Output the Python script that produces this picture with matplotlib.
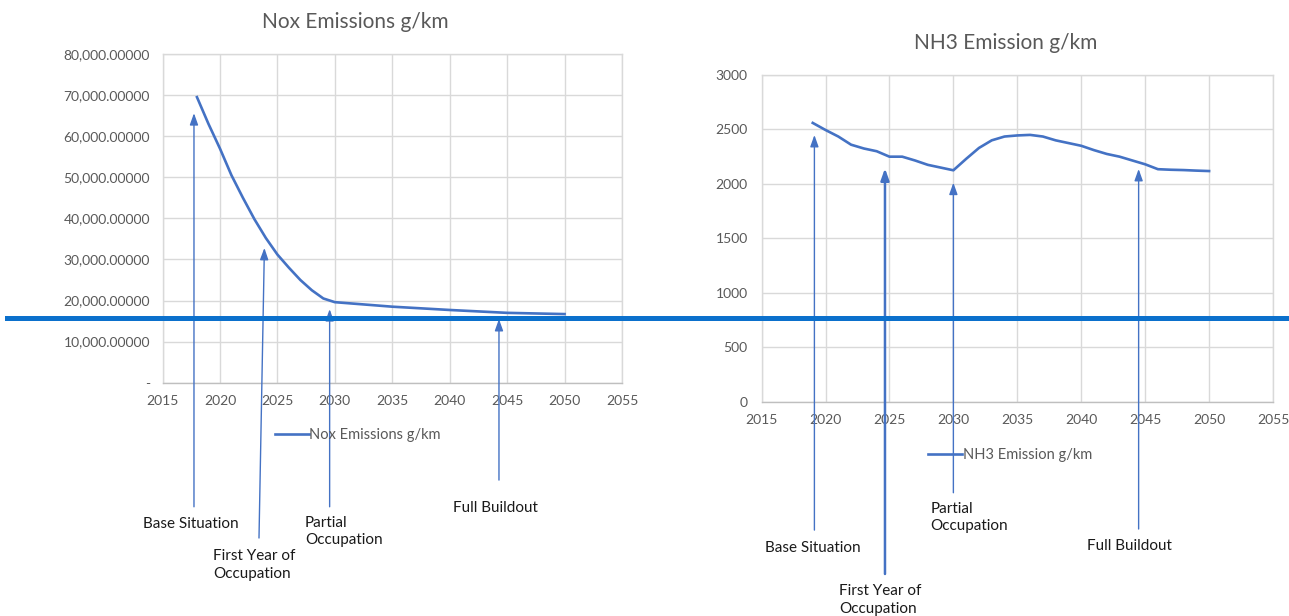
import matplotlib.pyplot as plt
from matplotlib.lines import Line2D

# NOx emissions (g/km) per year
nox_years = [2018, 2019, 2020, 2021, 2022, 2023, 2024, 2025, 2026, 2027,
             2028, 2029, 2030, 2035, 2040, 2045, 2050]
nox_values = [69500, 63000, 57000, 50500, 45000, 39800, 35200, 31200, 28000, 25000,
              22500, 20500, 19600, 18500, 17700, 17000, 16700]

# NH3 emissions (g/km) per year
nh3_years = list(range(2019, 2051))
nh3_values = [2560, 2495, 2435, 2360, 2325, 2300, 2250, 2250, 2215, 2175,
              2150, 2125, 2230, 2330, 2400, 2435, 2445, 2450, 2435, 2400,
              2375, 2350, 2310, 2275, 2250, 2215, 2180, 2135, 2130, 2127,
              2122, 2118]

x_ticks = [2015, 2020, 2025, 2030, 2035, 2040, 2045, 2050, 2055]
nox_ticks = [0, 10000, 20000, 30000, 40000, 50000, 60000, 70000, 80000]
nox_tick_labels = ['-', '10,000.00000', '20,000.00000', '30,000.00000', '40,000.00000',
                   '50,000.00000', '60,000.00000', '70,000.00000', '80,000.00000']
nh3_ticks = [0, 500, 1000, 1500, 2000, 2500, 3000]

LINE = '#4472C4'
GRID = '#d9d9d9'
TXT = '#595959'

plt.rcParams['font.family'] = ['Lato', 'DejaVu Sans']

W, H = 1289, 616
fig = plt.figure(figsize=(W / 100, H / 100), dpi=100)


def px_axes(x0, y0, x1, y1):
    return fig.add_axes([x0 / W, 1 - y1 / H, (x1 - x0) / W, (y1 - y0) / H])


def style(ax, yticks, ylabels, ylim):
    ax.set_xlim(2015, 2055)
    ax.set_ylim(*ylim)
    ax.set_xticks(x_ticks)
    ax.set_xticklabels([str(t) for t in x_ticks])
    ax.set_yticks(yticks)
    ax.set_yticklabels(ylabels)
    ax.grid(True, color=GRID, lw=1)
    ax.set_axisbelow(True)
    for s in ax.spines.values():
        s.set_color(GRID)
        s.set_linewidth(1)
    ax.spines['bottom'].set_color('#bfbfbf')
    ax.tick_params(length=0, labelsize=10, labelcolor=TXT, pad=9)


def milestones(ax, arrows, labels):
    for (xt, yt), (xb, yb), lw in arrows:
        ax.annotate('', xy=(xt, yt), xytext=(xb, yb), annotation_clip=False,
                    arrowprops=dict(arrowstyle='-|>,head_length=0.7,head_width=0.25',
                                    color=LINE, lw=lw, shrinkA=0, shrinkB=0))
    for x, y, s in labels:
        ax.text(x, y, s, ha='left', va='center', fontsize=11, color='#1a1a1a',
                linespacing=1.3, clip_on=False)


def legend(ax, cx, cy):
    ax.legend(loc='center', bbox_to_anchor=(cx / W, 1 - cy / H), bbox_transform=fig.transFigure,
              frameon=False, fontsize=10.5, labelcolor=TXT, handlelength=2.3,
              handletextpad=0.05)


# Left chart: NOx
ax1 = px_axes(162.5, 54, 622, 382.7)
style(ax1, nox_ticks, nox_tick_labels, (0, 80000))
ax1.plot(nox_years, nox_values, color=LINE, lw=1.9, label='Nox Emissions g/km')
ax1.set_title('Nox Emissions g/km', fontsize=15, color=TXT, pad=19, x=0.419)
legend(ax1, 358, 435)
milestones(ax1,
           [((2017.74, 65600), (2017.74, -30200), 1.0),
            ((2023.87, 32800), (2023.40, -37800), 1.0),
            ((2029.55, 17900), (2029.55, -30200), 1.0),
            ((2044.29, 15500), (2044.29, -23700), 1.0)],
           [(2013.3, -34400, 'Base Situation'),
            (2019.4, -44400, 'First Year of\nOccupation'),
            (2027.4, -36200, 'Partial\nOccupation'),
            (2040.3, -30500, 'Full Buildout')])

# Right chart: NH3
ax2 = px_axes(761.6, 75, 1273, 401.7)
style(ax2, nh3_ticks, [str(t) for t in nh3_ticks], (0, 3000))
ax2.tick_params(axis='y', pad=10)
ax2.plot(nh3_years, nh3_values, color=LINE, lw=1.9, label='NH3 Emission g/km')
ax2.set_title('NH3 Emission g/km', fontsize=15, color=TXT, pad=19, x=0.478)
legend(ax2, 1010, 454.7)
milestones(ax2,
           [((2019.13, 2449), (2019.13, -1179), 1.0),
            ((2024.65, 2143), (2024.65, -1582), 1.8),
            ((2030.0, 2011), (2030.0, -836), 1.0),
            ((2044.49, 2137), (2044.49, -1169), 1.0)],
           [(2015.24, -1343, 'Base Situation'),
            (2021.05, -1821, 'First Year of\nOccupation'),
            (2028.2, -1065, 'Partial\nOccupation'),
            (2040.42, -1325, 'Full Buildout')])

# Horizontal marker line across the whole figure
fig.add_artist(Line2D([7 / W, 1.0], [1 - 317.5 / H, 1 - 317.5 / H],
                      transform=fig.transFigure, color='#0B70CC', lw=3.6, zorder=10))

fig.savefig('out.png', dpi=100, facecolor='white')
